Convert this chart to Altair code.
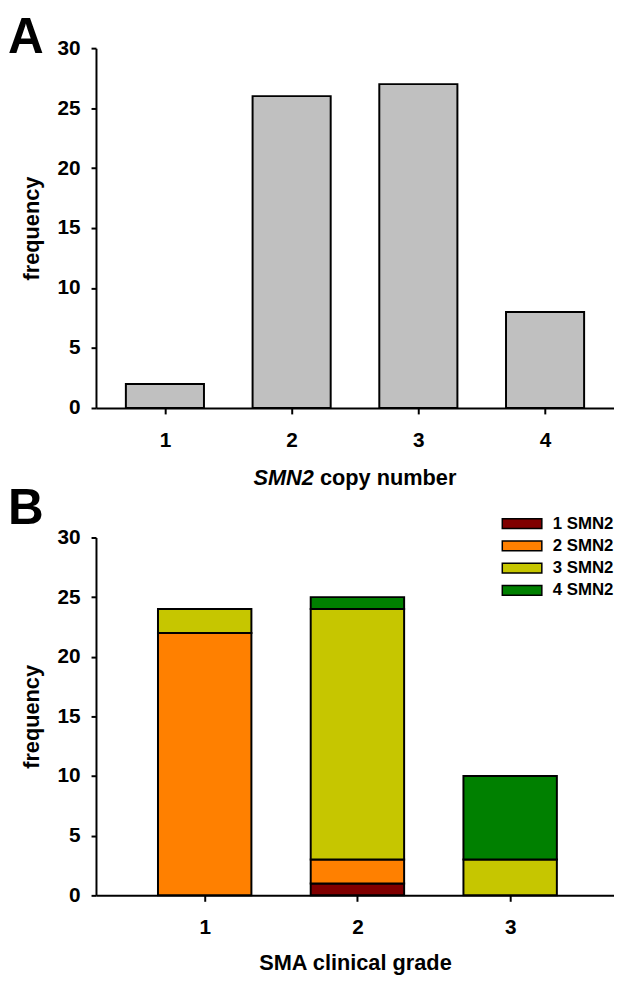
import altair as alt
import pandas as pd

# ---- data ----
copy_numbers = [1, 2, 3, 4]
copy_freq = [2, 26, 27, 8]

grades = [1, 2, 3]
smn2_one = [0, 1, 0]
smn2_two = [22, 2, 0]
smn2_three = [2, 21, 3]
smn2_four = [0, 1, 7]
series_names = ["1 SMN2", "2 SMN2", "3 SMN2", "4 SMN2"]
series_colors = ["#800000", "#FF8000", "#C6C600", "#008000"]
y_ticks = [0, 5, 10, 15, 20, 25, 30]

FONT = "Liberation Sans"
W = 524

df_a = pd.DataFrame({"copy": copy_numbers, "freq": copy_freq})
rows = []
for si, (name, vals) in enumerate(zip(series_names, [smn2_one, smn2_two, smn2_three, smn2_four])):
    for g, v in zip(grades, vals):
        if v > 0:
            rows.append({"grade": g, "series": name, "order": si, "count": v})
df_b = pd.DataFrame(rows)


def y_axis():
    return alt.Axis(values=y_ticks, title="frequency", grid=False,
                    domainColor="black", domainWidth=2, tickColor="black", tickWidth=2, tickSize=5,
                    labelFont=FONT, labelFontSize=21, labelFontWeight="bold", labelColor="black",
                    labelPadding=11, titleFont=FONT, titleFontSize=22, titleFontWeight="bold",
                    titleColor="black", titlePadding=14)


def x_axis(vals, title):
    kw = dict(values=vals, format="d", grid=False, domainColor="black", domainWidth=2,
              tickColor="black", tickWidth=2, tickSize=6, labelFont=FONT, labelFontSize=21,
              labelFontWeight="bold", labelColor="black", labelPadding=16, labelFlush=False)
    if title is None:
        return alt.Axis(title=None, **kw)
    return alt.Axis(title=title, titleFont=FONT, titleFontSize=22, titleFontWeight="bold",
                    titleColor="black", titlePadding=15, **kw)


def letter(t, y):
    return alt.Chart(pd.DataFrame({"t": [t]})).mark_text(
        align="left", baseline="top", font=FONT, fontSize=50, fontWeight="bold", color="black"
    ).encode(x=alt.value(-89), y=alt.value(y), text="t:N")


# ---- panel A ----
bars_a = alt.Chart(df_a).mark_bar(size=79, fill="#C0C0C0", stroke="black", strokeWidth=2).encode(
    x=alt.X("copy:Q", scale=alt.Scale(domain=[0.495, 4.505], nice=False, zero=False),
            axis=x_axis(copy_numbers, None)),
    y=alt.Y("freq:Q", scale=alt.Scale(domain=[0, 30], nice=False), axis=y_axis()),
)
title_it = alt.Chart(pd.DataFrame({"t": ["SMN2"]})).mark_text(
    align="right", baseline="alphabetic", font=FONT, fontSize=22, fontWeight="bold",
    fontStyle="italic", color="black"
).encode(x=alt.value(220.4), y=alt.value(442), text="t:N")
title_rest = alt.Chart(pd.DataFrame({"t": ["copy number"]})).mark_text(
    align="left", baseline="alphabetic", font=FONT, fontSize=22, fontWeight="bold", color="black"
).encode(x=alt.value(226.5), y=alt.value(442), text="t:N")

chart_a = alt.layer(bars_a, title_it, title_rest, letter("A", -35)).properties(width=W, height=364)

# ---- panel B ----
bars_b = alt.Chart(df_b).mark_bar(size=94.5, stroke="black", strokeWidth=2).encode(
    x=alt.X("grade:Q", scale=alt.Scale(domain=[0.3206, 3.6476], nice=False, zero=False),
            axis=x_axis(grades, "SMA clinical grade")),
    y=alt.Y("count:Q", stack="zero", scale=alt.Scale(domain=[0, 30], nice=False), axis=y_axis()),
    color=alt.Color("series:N", scale=alt.Scale(domain=series_names, range=series_colors),
                    legend=alt.Legend(title=None, orient="none", legendX=420, legendY=470, padding=0,
                                      symbolType="M-2,-0.5H2V0.5H-2Z", symbolSize=400,
                                      symbolStrokeColor="black", symbolStrokeWidth=1.5,
                                      symbolOpacity=1, labelFont=FONT, labelFontSize=17,
                                      labelFontWeight="bold", labelColor="black", labelOffset=20,
                                      rowPadding=3.5)),
    order=alt.Order("order:Q", sort="ascending"),
)
chart_b = alt.layer(bars_b, letter("B", -54)).properties(width=W, height=362)

chart = alt.vconcat(chart_a, chart_b, spacing=131, bounds="flush").configure_view(
    stroke=None).properties(padding={"top": 0, "left": 0, "right": 0, "bottom": 0})

chart.save("out.html", embed_options={"renderer": "svg", "actions": False})
